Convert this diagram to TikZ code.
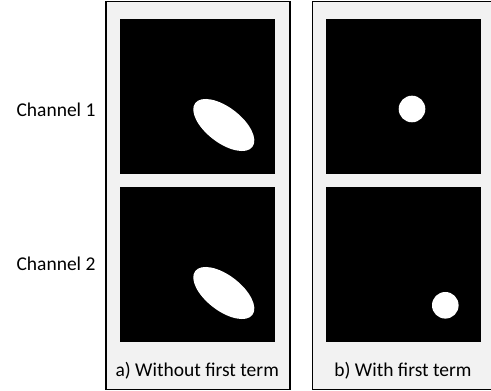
\documentclass[tikz,border=0pt]{standalone}
\usepackage{fontspec}
\setmainfont{Carlito}
\begin{document}
\begin{tikzpicture}[x=1pt,y=1pt,
  panel/.style={draw=black, line width=1.5pt, fill=panelgray},
  frame/.style={fill=black},
  blob/.style={fill=white},
  lbl/.style={font=\fontsize{19.5}{22}\selectfont, text=black, inner sep=0pt}]
\definecolor{panelgray}{HTML}{F2F2F2}
\useasboundingbox (0,0) rectangle (491,391);

% outer panels
\draw[panel] (106,1.5) rectangle (290,389.5);
\draw[panel] (312.7,1.5) rectangle (494,389.5);

% black image frames
\fill[frame] (120,216.7) rectangle (275.3,372);
\fill[frame] (120,48.7) rectangle (275.3,204);
\fill[frame] (326,216.7) rectangle (481.3,372);
\fill[frame] (326,48.7) rectangle (481.3,204);

% elongated blobs (left column)
\fill[blob, rotate around={-37.5:(223.8,266)}] (223.8,266) ellipse [x radius=36, y radius=17.7];
\fill[blob, rotate around={-37.5:(223.8,98)}] (223.8,98) ellipse [x radius=36, y radius=17.7];

% round blobs (right column)
\fill[blob] (412,282) circle [radius=13.3];
\fill[blob] (445.3,85.7) circle [radius=13.3];

% labels
\node[lbl, anchor=base east] (ch1) at (95.7,274.3) {Channel 1};
\node[lbl, anchor=base east] (ch2) at (95.7,120.3) {Channel 2};
\node[lbl, anchor=base] (capa) at (197.2,14) {a) Without first term};
\node[lbl, anchor=base] (capb) at (403,14) {b) With first term};
\end{tikzpicture}
\end{document}
